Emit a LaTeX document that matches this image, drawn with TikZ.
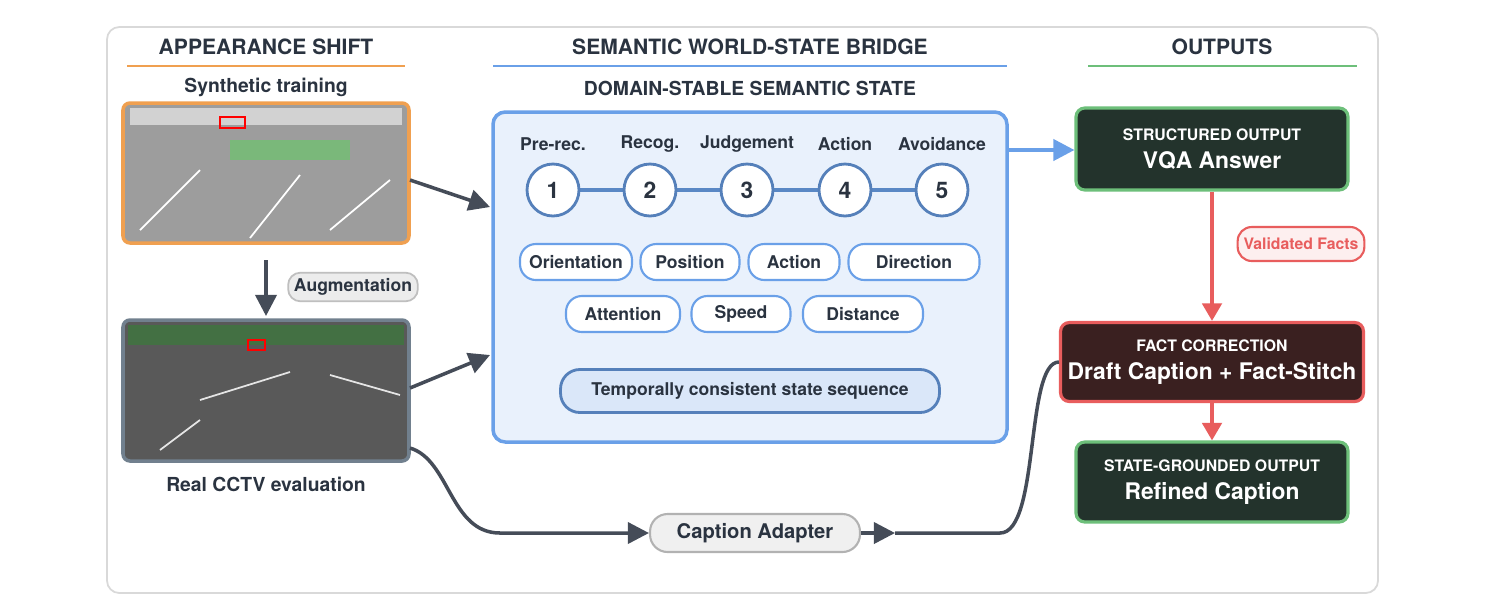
\documentclass[tikz,border=0pt]{standalone}
\usepackage{fontspec}
\setmainfont{TeX Gyre Heros}
\usetikzlibrary{positioning,arrows.meta}
\definecolor{ashift}{HTML}{F0A050}
\definecolor{bridge}{HTML}{6AA0E8}
\definecolor{outg}{HTML}{6DBF7A}
\definecolor{factr}{HTML}{E85D5D}
\definecolor{ink}{HTML}{2A3340}
\definecolor{wire}{HTML}{454C58}
\definecolor{darkg}{HTML}{23332C}
\definecolor{darkr}{HTML}{3A2020}
\definecolor{realb}{HTML}{71808E}
\tikzset{
  head/.style={font=\bfseries\fontsize{12}{14}\selectfont,text=ink},
  sub/.style={font=\bfseries\fontsize{11}{13}\selectfont,text=ink},
  stepnum/.style={circle,draw=bridge!80!black,line width=1.6pt,fill=white,minimum size=1.04cm,inner sep=0pt,font=\bfseries\fontsize{13}{15}\selectfont,text=ink},
  steplab/.style={font=\bfseries\fontsize{10}{12}\selectfont,text=ink},
  pill/.style={rounded corners=9pt,draw=bridge,line width=1.2pt,fill=white,minimum height=0.72cm,inner sep=1pt,font=\bfseries\fontsize{10}{12}\selectfont,text=ink},
  outbox/.style={rounded corners=5pt,line width=1.8pt,minimum width=5.44cm,minimum height=1.64cm,align=center,text=white},
  bigarrow/.style={draw=wire,line width=2pt,-{Triangle[length=12pt,width=12pt]}},
}
\begin{document}
\begin{tikzpicture}[x=0.02cm,y=-0.02cm]
\useasboundingbox (0,0) rectangle (1500,610);
\draw[rounded corners=7pt,draw=gray!30,line width=1pt,fill=white] (107,27) rectangle (1378,593);
% headings
\node[head] (h1) at (266,47) {APPEARANCE SHIFT};
\node[head] (h2) at (750,47) {SEMANTIC WORLD-STATE BRIDGE};
\node[head] (h3) at (1222,47) {OUTPUTS};
\draw[ashift,line width=1.5pt] (127,66) -- (405,66);
\draw[bridge,line width=1.5pt] (493,66) -- (1007,66);
\draw[outg,line width=1.5pt] (1088,66) -- (1357,66);
% left column
\node[sub] (synt) at (266,87) {Synthetic training};
\draw[rounded corners=4pt,draw=ashift,line width=2pt,fill=gray!90!black!70] (123,103) rectangle (409,243);
\fill[gray!35] (130,108) rectangle (402,125);
\fill[green!30!gray!80] (230,140) rectangle (350,160);
\draw[white,line width=1pt] (140,230) -- (200,170) (250,238) -- (300,175) (330,230) -- (390,180);
\draw[red,line width=1pt] (220,117) rectangle (245,128);
\node[fill=gray!15,draw=gray!50,line width=1pt,rounded corners=7pt,minimum height=0.52cm,font=\bfseries\fontsize{10}{12}\selectfont,text=ink] (aug) at (353,287) {Augmentation};
\draw[rounded corners=4pt,draw=realb,line width=2pt,fill=gray!70!black] (123,320) rectangle (409,461);
\fill[green!25!gray!70!black] (128,325) rectangle (404,345);
\draw[white!80!gray,line width=1pt] (200,400) -- (290,372) (330,375) -- (400,395) (160,450) -- (200,420);
\draw[red,line width=1pt] (248,340) rectangle (265,350);
\node[sub] (real) at (266,484) {Real CCTV evaluation};
\coordinate (augtop) at (266,260);
\coordinate (augbot) at (266,316);
\draw[bigarrow] (augtop) -- (augbot);
% bridge box
\node[sub] (dss) at (750,88) {DOMAIN-STABLE SEMANTIC STATE};
\draw[rounded corners=7pt,draw=bridge,line width=2pt,fill=bridge!15] (493,112) rectangle (1007,442);
\coordinate (bridgeW1) at (490,207);
\coordinate (bridgeW2) at (490,355);
\coordinate (bridgeE) at (1009,150);
\draw[bridge!85!black,line width=2.4pt] (553,190) -- (942,190);
\foreach \x/\n/\t in {553/1/Pre-rec.,650/2/Recog.,747/3/Judgement,845/4/Action,942/5/Avoidance}{
  \node[steplab] (lab\n) at (\x,144) {\t};
  \node[stepnum] (s\n) at (\x,190) {\n};
}
\node[pill,minimum width=2.24cm] (orient) at (576,262) {Orientation};
\node[pill,minimum width=1.98cm] (pos) at (690,262) {Position};
\node[pill,minimum width=1.82cm] (act) at (794,262) {Action};
\node[pill,minimum width=2.62cm] (dir) at (914,262) {Direction};
\node[pill,minimum width=2.28cm] (att) at (623,314) {Attention};
\node[pill,minimum width=1.98cm] (speed) at (741,314) {Speed};
\node[pill,minimum width=2.4cm] (dist) at (863,314) {Distance};
\node[pill,draw=bridge!80!black,line width=1.6pt,fill=bridge!25,rounded corners=11pt,minimum width=7.58cm,minimum height=0.86cm] (temp) at (750,391) {Temporally consistent state sequence};
\draw[bigarrow] (410,180) -- (bridgeW1);
\draw[bigarrow] (410,388) -- (bridgeW2);
% outputs
\node[outbox,draw=outg,fill=darkg] (vqa) at (1212,149) {\bfseries\fontsize{9}{11}\selectfont STRUCTURED OUTPUT\\[4pt]\bfseries\fontsize{13}{15}\selectfont VQA Answer};
\node[outbox,draw=factr,fill=darkr,minimum width=6.06cm,minimum height=1.58cm] (fact) at (1212,362) {\bfseries\fontsize{9}{11}\selectfont FACT CORRECTION\\[4pt]\bfseries\fontsize{13}{15}\selectfont Draft Caption + Fact-Stitch};
\node[outbox,draw=outg,fill=darkg,minimum height=1.6cm] (refined) at (1212,482) {\bfseries\fontsize{9}{11}\selectfont STATE-GROUNDED OUTPUT\\[4pt]\bfseries\fontsize{13}{15}\selectfont Refined Caption};
\draw[bridge,line width=2.2pt,-{Triangle[length=12pt,width=12pt]}] (bridgeE) -- (vqa.west |- bridgeE);
\draw[factr,line width=2.2pt,-{Triangle[length=10pt,width=11pt]}] (vqa) -- (fact);
\draw[factr,line width=2.2pt,-{Triangle[length=10pt,width=11pt]}] (fact) -- (refined);
\node[rounded corners=8pt,draw=factr,line width=1.2pt,fill=factr!10,minimum height=0.68cm,text=factr,font=\bfseries\fontsize{9}{11}\selectfont] (valid) at (1301,244) {Validated Facts};
% caption adapter
\node[fill=gray!12,draw=gray!60,line width=1.2pt,rounded corners=10pt,minimum width=4.2cm,minimum height=0.76cm,font=\bfseries\fontsize{11.5}{14}\selectfont,text=ink] (cap) at (755,533) {Caption Adapter};
\coordinate (realout) at (410,448);
\coordinate (capout) at (895,533);
\draw[bigarrow] (realout) .. controls (450,460) and (450,533) .. (500,533) -- (cap.west);
\draw[bigarrow] (cap.east) -- (capout);
\draw[draw=wire,line width=2pt] (capout) -- (1000,533) .. controls (1040,533) and (1025,362) .. (fact.west);
\end{tikzpicture}
\end{document}
